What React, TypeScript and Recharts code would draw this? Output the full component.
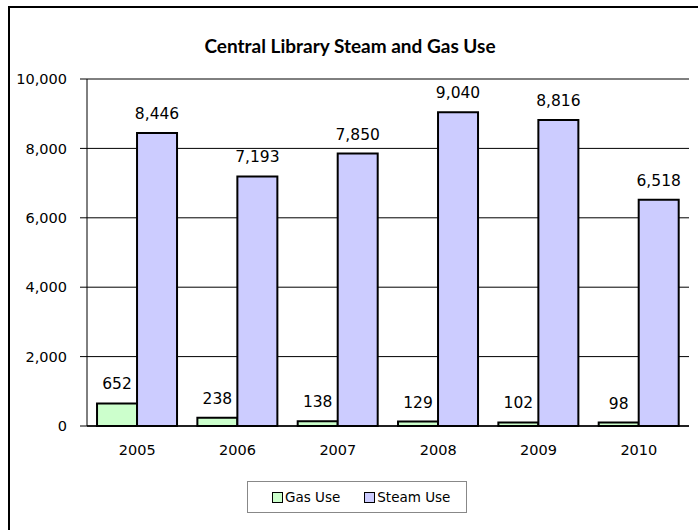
import { Bar, BarChart, CartesianGrid, LabelList, Legend, XAxis, YAxis } from "recharts";

const years = ["2005", "2006", "2007", "2008", "2009", "2010"];
const gasUse = [652, 238, 138, 129, 102, 98];
const steamUse = [8446, 7193, 7850, 9040, 8816, 6518];
const yTicks = [0, 2000, 4000, 6000, 8000, 10000];
const boundaryTicks = [0, 1, 2, 3, 4, 5, 6];

const GAS_COLOR = "#ccffcc";
const STEAM_COLOR = "#ccccff";

const fmt = (v: number | string) => Number(v).toLocaleString("en-US");

function LegendBox() {
  const item = (color: string, label: string, mr: number) => (
    <span style={{ display: "inline-flex", alignItems: "center", marginRight: mr }}>
      <span
        style={{
          display: "inline-block",
          width: 9,
          height: 9,
          background: color,
          border: "1.5px solid #000",
          marginRight: 2,
        }}
      />
      {label}
    </span>
  );
  return (
    <div
      style={{
        boxSizing: "border-box",
        width: 220,
        height: 32,
        border: "1px solid #888",
        display: "flex",
        alignItems: "center",
        paddingLeft: 24,
        fontSize: 13.5,
        color: "#000",
      }}
    >
      {item(GAS_COLOR, "Gas Use", 24)}
      {item(STEAM_COLOR, "Steam Use", 0)}
    </div>
  );
}

export default function App() {
  const data = years.map((year, i) => ({ year, gas: gasUse[i], steam: steamUse[i] }));

  return (
    <div
      style={{
        position: "absolute",
        top: 6,
        left: 8,
        boxSizing: "border-box",
        width: 690,
        height: 524,
        borderTop: "2px solid #000",
        borderLeft: "2px solid #000",
        background: "#fff",
        fontFamily: "DejaVu Sans, sans-serif",
      }}
    >
      <div
        style={{
          position: "absolute",
          top: 26,
          left: 0,
          width: 680,
          textAlign: "center",
          fontFamily: "Lato, sans-serif",
          fontWeight: 700,
          fontSize: 19,
          color: "#000",
        }}
      >
        Central Library Steam and Gas Use
      </div>
      <BarChart
        width={688}
        height={522}
        data={data}
        margin={{ top: 71, right: 9, left: 0, bottom: 42 }}
        barCategoryGap="10%"
        barGap={0}
      >
        <CartesianGrid vertical={false} stroke="#000" strokeWidth={1} />
        <XAxis
          xAxisId="bounds"
          type="number"
          domain={[0, 6]}
          ticks={boundaryTicks}
          allowDataOverflow
          height={0}
          axisLine={false}
          tickLine={{ stroke: "#000" }}
          tickSize={6}
          tickFormatter={() => ""}
        />
        <XAxis
          dataKey="year"
          height={30}
          axisLine={{ stroke: "#000", strokeWidth: 1.5 }}
          tickLine={false}
          tickSize={5}
          tickMargin={14}
          tick={{ fill: "#000", fontSize: 14.5 }}
        />
        <YAxis
          width={77}
          domain={[0, 10000]}
          ticks={yTicks}
          tickFormatter={fmt}
          axisLine={{ stroke: "#000" }}
          tickLine={{ stroke: "#000" }}
          tickSize={7}
          tickMargin={13}
          tick={{ fill: "#000", fontSize: 14.5 }}
        />
        <YAxis
          yAxisId="right"
          orientation="right"
          width={0}
          domain={[0, 10000]}
          tick={false}
          tickLine={false}
          axisLine={{ stroke: "#999" }}
        />
        <Legend
          verticalAlign="bottom"
          wrapperStyle={{ left: 237, bottom: 17, width: 220 }}
          content={() => <LegendBox />}
        />
        <Bar dataKey="gas" name="Gas Use" fill={GAS_COLOR} stroke="#000" strokeWidth={2} isAnimationActive={false}>
          <LabelList dataKey="gas" position="top" offset={14} formatter={fmt} fill="#000" fontSize={15.5} />
        </Bar>
        <Bar dataKey="steam" name="Steam Use" fill={STEAM_COLOR} stroke="#000" strokeWidth={2} isAnimationActive={false}>
          <LabelList dataKey="steam" position="top" offset={14} formatter={fmt} fill="#000" fontSize={15.5} />
        </Bar>
      </BarChart>
    </div>
  );
}
